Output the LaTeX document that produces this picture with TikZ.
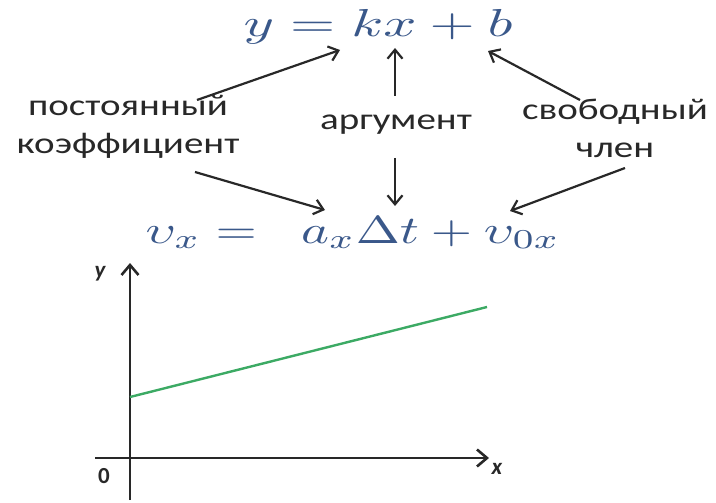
\documentclass[tikz,border=0pt]{standalone}
\usepackage{fontspec}
\setmainfont{Carlito}
\newfontfamily\widefont[FakeStretch=1.3]{Carlito}
\usetikzlibrary{arrows.meta}
\definecolor{colEq}{RGB}{58,88,138}
\definecolor{colLine}{RGB}{60,170,100}
\definecolor{colInk}{RGB}{40,40,40}

\begin{document}
\begin{tikzpicture}[x=1pt, y=-1pt,
  lbl/.style={font=\widefont\fontsize{30}{38}\selectfont, align=center, text=colInk, inner sep=0pt},
  eqn/.style={text=colEq, inner sep=0pt, anchor=base},
  tick/.style={font=\bfseries\fontsize{23}{25}\selectfont, text=colInk, inner sep=0pt},
  arr/.style={-{Straight Barb[length=9pt,width=15pt]}, line width=2.2pt, colInk},
  axis/.style={-{Straight Barb[length=10pt,width=17pt]}, line width=2.6pt, colInk},
]
\useasboundingbox (0,0) rectangle (716,503);

% equations
\node[eqn] (top) at (378,37) {\scalebox{5.8}[3.9]{$y = kx + b$}};
\node[eqn] (bot) at (353,243) {\scalebox{5.3}[3.9]{$\upsilon_x = \;\; a_x\Delta t + \upsilon_{0x}$}};

% labels
\node[lbl] (coef) at (128,127) {постоянный\\коэффициент};
\node[lbl] (arg) at (396,125) {аргумент};
\node[lbl] (free) at (615,128) {свободный\\член};

% arrow ends
\coordinate (coefT) at (197,100);
\coordinate (coefB) at (195,172);
\coordinate (argT) at (395,96);
\coordinate (argB) at (395,158);
\coordinate (freeT) at (580,100);
\coordinate (freeB) at (625,168);
\coordinate (kIn) at (340,50);
\coordinate (xIn) at (395,48);
\coordinate (bIn) at (488,51);
\coordinate (aIn) at (325,210);
\coordinate (tIn) at (395,206);
\coordinate (vIn) at (510,211);

\draw[arr] (coefT) -- (kIn);
\draw[arr] (argT) -- (xIn);
\draw[arr] (freeT) -- (bIn);
\draw[arr] (coefB) -- (aIn);
\draw[arr] (argB) -- (tIn);
\draw[arr] (freeB) -- (vIn);

% graph
\coordinate (yFoot) at (130,500);
\coordinate (yHead) at (130,263);
\coordinate (xFoot) at (95,458);
\coordinate (xHead) at (489,458);
\coordinate (lineA) at (130,397);
\coordinate (lineB) at (487,307);
\draw[axis] (yFoot) -- (yHead);
\draw[axis] (xFoot) -- (xHead);
\draw[colLine, line width=2.4pt] (lineA) -- (lineB);
\node[tick] (ylab) at (100,274) {\itshape y};
\node[tick] (olab) at (104,476) {0};
\node[tick] (xlab) at (497,469) {\itshape x};

\end{tikzpicture}
\end{document}
